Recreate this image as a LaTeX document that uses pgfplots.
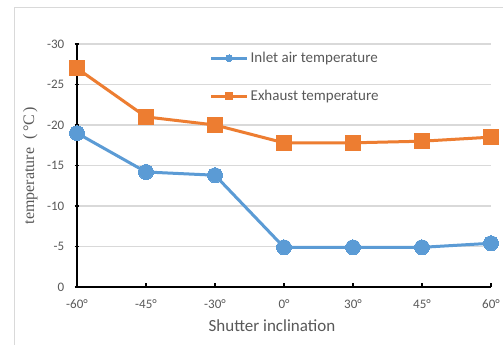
\documentclass[border=0pt]{standalone}
\usepackage{fontspec}
\setmainfont{Carlito}
\newfontfamily\serifff{Liberation Serif}
\usepackage{pgfplots}
\pgfplotsset{compat=1.18}
\definecolor{cblue}{HTML}{5B9BD5}
\definecolor{corange}{HTML}{ED7D31}
\definecolor{tgray}{HTML}{595959}
\definecolor{ggray}{HTML}{D9D9D9}
\begin{document}
\begin{tikzpicture}
\useasboundingbox (0pt,0pt) rectangle (503pt,345pt);
\fill[white] (0pt,0pt) rectangle (503pt,345pt);
\draw[ggray, line width=1pt] (14.5pt,337.5pt) -- (14.5pt,-5pt) (14.5pt,337.5pt) -- (510pt,337.5pt);
\begin{axis}[
  at={(77pt,58pt)}, anchor=south west,
  scale only axis, width=414pt, height=243pt,
  xmin=0, xmax=6, ymin=-30, ymax=0,
  y dir=reverse,
  xtick={0,...,6},
  xticklabels={-60°,-45°,-30°,0°,30°,45°,60°},
  ytick={-30,-25,-20,-15,-10,-5,0},
  yticklabels={-30,-25,-20,-15,-10,-5,0},
  axis x line*=bottom, axis y line*=left,
  axis line style={black, line width=1.2pt, -},
  x tick style={black, line width=1.2pt}, major tick length=4.5pt,
  xtick align=inside,
  y tick style={black, line width=1.2pt},
  ytick align=center,
  ymajorgrids, grid style={ggray, line width=1.2pt},
  tick label style={font=\fontsize{13}{15}\selectfont, text=tgray},
  xticklabel style={yshift=-9pt},
  yticklabel style={xshift=-7pt},
  /pgf/number format/assume math mode=true,
  xlabel={Shutter inclination},
  xlabel style={font=\fontsize{17}{19}\selectfont, text=tgray, at={(axis description cs:0.471,-0.16)}, anchor=center},
  ylabel={\serifff temperature\ \ (\,°C\,)},
  ylabel style={font=\fontsize{16}{18}\selectfont, text=tgray, at={(axis description cs:-0.113,0.5)}, anchor=center},
  legend style={draw=none, fill=none, at={(0.32,0.975)}, anchor=north west,
    font=\fontsize{15}{17}\selectfont, text=tgray, inner sep=0pt,
    row sep=22pt, cells={anchor=west}},
  legend image code/.code={\draw[mark repeat=2,mark phase=2, mark size=3.5pt] plot coordinates {(0pt,0pt) (18pt,0pt) (36pt,0pt)};},
  clip=false,
]
\addplot[cblue, line width=3pt, mark=*, mark size=7.5pt, mark options={line width=0pt}]
  coordinates {(0,-19.0) (1,-14.2) (2,-13.8) (3,-4.9) (4,-4.9) (5,-4.9) (6,-5.4)};
\addlegendentry{Inlet air temperature}
\addplot[corange, line width=3pt, mark=square*, mark size=7.5pt, mark options={line width=0pt}]
  coordinates {(0,-27.0) (1,-21.0) (2,-20.0) (3,-17.8) (4,-17.8) (5,-18.0) (6,-18.5)};
\addlegendentry{Exhaust temperature}
\end{axis}
\end{tikzpicture}
\end{document}
